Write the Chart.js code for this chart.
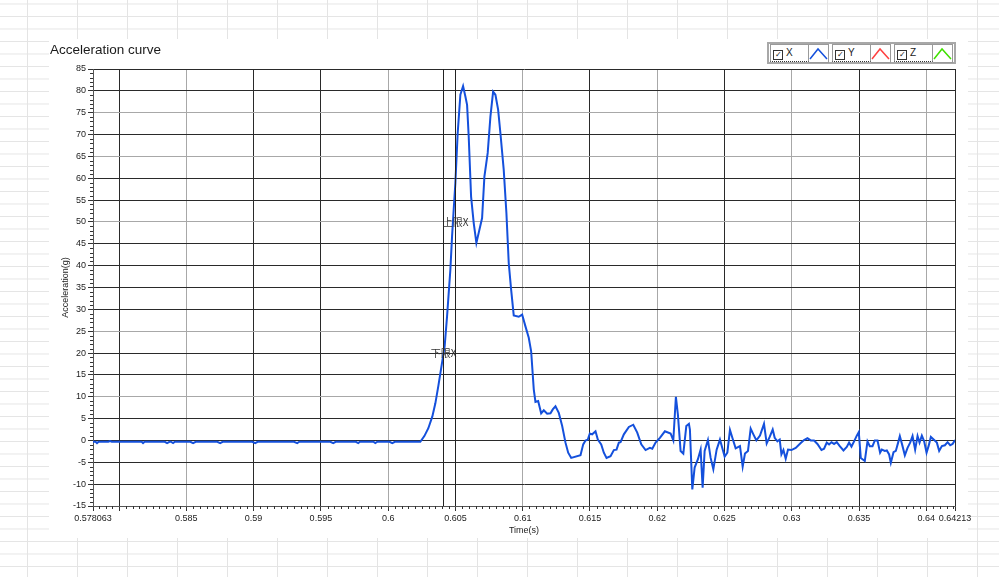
<!DOCTYPE html>
<html>
<head>
<meta charset="utf-8">
<title>Acceleration curve</title>
<script src="https://cdn.jsdelivr.net/npm/chart.js@4.4.1/dist/chart.umd.min.js"></script>
<style>
    body {
        margin: 0;
        width: 999px;
        height: 577px;
        overflow: hidden;
        position: relative;
        background-color: #fff;
        background-image:
            linear-gradient(to right, #e4e4e4 1px, transparent 1px),
            linear-gradient(to bottom, #e4e4e4 1px, transparent 1px);
        background-size: 50px 100%, 100% 12.5px;
        background-position: 27px 0, 0 3.5px;
        font-family: "Liberation Sans", Arial, sans-serif;
    }
    #panel {
        position: absolute;
        left: 49px; top: 39px;
        width: 919px; height: 499px;
        background: #fff;
    }
    #chart { position: absolute; left: 0; top: 0; }
    #legend {
        position: absolute;
        left: 767px; top: 42px;
        height: 18px;
        border: 2px solid #a8a8a8;
        display: flex;
        padding: 0 1px;
        background: #fff;
    }
    .item { display: flex; margin-right: 3px; }
    .item:last-child { margin-right: 0; }
    .name {
        width: 37px; height: 16px;
        border: 1px solid #9a9a9a;
        border-bottom: 1px dotted #333;
        font-size: 10px; line-height: 16px;
        color: #222;
        box-sizing: content-box;
    }
    .name span.box {
        display: inline-block;
        width: 8px; height: 8px;
        border: 1px solid #333;
        margin: 0 3px 0 2px;
        vertical-align: -1px;
        font-size: 8px; line-height: 8px;
        text-align: center;
    }
    .icon { width: 19px; height: 17px; border: 1px solid #9a9a9a; border-left: none; }
</style>
</head>
<body>
<div id="panel"></div>
<canvas id="chart" width="999" height="577"></canvas>
<div id="legend"></div>

<script>
/* =====================================
   Data
===================================== */
const seriesNames = ["X", "Y", "Z"];
const seriesColors = ["#1450dc", "#ff4040", "#40e000"];

// time (s) and acceleration (g) of the X channel
const timeX = [
    0.578063, 0.57825, 0.578361, 0.57848, 0.5792, 0.57933, 0.57946, 0.5806, 0.58168, 0.581783, 0.5819,
    0.5834, 0.583569, 0.58375, 0.58385, 0.584015, 0.58415, 0.5853, 0.585503, 0.5857, 0.5873, 0.587512,
    0.5877, 0.5899, 0.590116, 0.5903, 0.593, 0.593241, 0.5934, 0.5957, 0.595919, 0.5961, 0.5976,
    0.597779, 0.5979, 0.5989, 0.599044, 0.5992, 0.6001, 0.600309, 0.6005, 0.60239,
    0.60269, 0.602987, 0.603285, 0.603508, 0.603731, 0.604006, 0.6042, 0.604378, 0.604624, 0.60475,
    0.60487, 0.604996, 0.605167, 0.605368, 0.605569, 0.60574, 0.605866, 0.605986, 0.606164, 0.606358,
    0.606558, 0.606982, 0.607154, 0.607399, 0.6076, 0.607801, 0.607972, 0.608173, 0.608344, 0.60859,
    0.60879, 0.608962, 0.60914, 0.609334, 0.609706, 0.609958, 0.610204, 0.61045, 0.610628, 0.610822,
    0.610948, 0.611149, 0.611372, 0.611566, 0.611818, 0.612064, 0.612235, 0.612436, 0.612682, 0.612934,
    0.61318, 0.613381, 0.613604, 0.614296, 0.614497, 0.614668, 0.614839, 0.614988, 0.615166, 0.615412,
    0.615583, 0.615836, 0.61603, 0.61623, 0.616528, 0.616774, 0.616974, 0.617146, 0.617272, 0.617518,
    0.61789, 0.618217, 0.618514, 0.618812, 0.619132, 0.619452, 0.61963, 0.619876, 0.620196, 0.620568,
    0.620992, 0.621193, 0.621386, 0.621535, 0.621736, 0.621937, 0.62216, 0.622354, 0.622428, 0.622606,
    0.622778, 0.623023, 0.623224, 0.623373, 0.623522, 0.623767, 0.623968, 0.624169, 0.624414, 0.62466,
    0.62501, 0.62521, 0.625404, 0.625582, 0.625828, 0.626148, 0.626349, 0.62652, 0.626743, 0.626944,
    0.627145, 0.627368, 0.627636, 0.627934, 0.628134, 0.628358, 0.628581, 0.62873, 0.62893, 0.629102,
    0.629228, 0.629377, 0.629548, 0.629719, 0.629972, 0.630292, 0.630664, 0.63091, 0.631162, 0.631408,
    0.631654, 0.631906, 0.632204, 0.632398, 0.632598, 0.63277, 0.632948, 0.633142, 0.633342, 0.633566,
    0.633841, 0.634086, 0.634258, 0.634436, 0.63463, 0.63483, 0.634979, 0.635128, 0.635254, 0.635426,
    0.635626, 0.635798, 0.635998, 0.63617, 0.63637, 0.636564, 0.63669, 0.636914, 0.637062, 0.637234,
    0.63736, 0.637561, 0.637732, 0.637903, 0.63803, 0.63823, 0.638402, 0.638602, 0.638796, 0.638974,
    0.639168, 0.639346, 0.639495, 0.639666, 0.639838, 0.640016, 0.640165, 0.640336, 0.640582, 0.640782,
    0.640954, 0.641154, 0.641378, 0.641578, 0.641772, 0.64195, 0.64213
];
const accelX = [
    -0.3, -0.3, -0.6, -0.3, -0.3, -0.15, -0.3, -0.3, -0.3, -0.6, -0.3,
    -0.3, -0.6, -0.3, -0.3, -0.6, -0.3, -0.3, -0.6, -0.3, -0.3, -0.6,
    -0.3, -0.3, -0.6, -0.3, -0.3, -0.6, -0.3, -0.3, -0.6, -0.3, -0.3,
    -0.6, -0.3, -0.3, -0.6, -0.3, -0.3, -0.6, -0.3, -0.3,
    1.0, 2.8, 5.5, 8.5, 12.5, 17.8, 21.6, 28.4, 39.1, 46.7,
    52.8, 58.9, 70.3, 79.1, 81.1, 78.7, 76.8, 69.6, 55.8, 49.8,
    45.2, 50.9, 60.4, 65.8, 74.1, 79.8, 79.1, 75.7, 70.3, 61.9,
    52.0, 40.6, 34.5, 28.6, 28.3, 28.8, 26.1, 23.5, 20.4, 11.7,
    8.8, 9.0, 6.2, 6.9, 6.1, 6.2, 7.1, 7.8, 6.3, 3.3,
    -0.5, -2.8, -4.0, -3.4, -0.9, 0.0, 0.2, 1.6, 1.4, 2.1,
    0.2, -0.9, -2.8, -4.0, -3.6, -2.2, -2.1, -0.5, -0.4, 1.4,
    3.1, 3.6, 1.8, -0.9, -2.2, -1.7, -1.9, -0.5, 0.6, 2.1,
    1.6, 0.0, 10.0, 5.9, -2.4, -3.0, 3.3, 3.8, 2.5, -11.2,
    -6.2, -4.3, -2.1, -10.8, -2.4, 0.1, -4.0, -6.6, -2.1, 0.2,
    -3.7, -2.8, 2.4, 0.6, -1.8, -1.3, -6.0, -3.0, -2.4, 2.7,
    1.4, 0.0, 1.1, 3.8, -0.7, 0.8, 2.5, 0.6, -0.2, 0.2,
    -3.2, -2.2, -4.2, -2.1, -2.2, -1.7, -0.6, 0.1, 0.5, 0.0,
    0.0, -0.8, -2.2, -1.9, -0.5, -0.9, -0.4, -0.8, -0.4, -1.3,
    -2.3, -1.5, -0.5, -1.4, -0.2, 1.1, 1.9, -4.0, -4.3, -4.7,
    -0.2, -1.3, -1.3, 0.0, 0.0, -2.8, -2.1, -2.4, -2.3, -3.2,
    -5.1, -2.7, -2.4, -0.5, 1.0, -1.3, -3.4, -1.7, -0.5, 1.0,
    -2.1, 1.0, -0.5, 1.1, -0.2, -2.8, -1.3, 0.8, 0.1, -0.5,
    -2.4, -1.3, -1.1, -0.4, -1.1, -0.8, 0.1
];

// axis ticks
const xMin = 0.578063;
const xMax = 0.64213;
const xTicks = [0.578063, 0.58, 0.585, 0.59, 0.595, 0.6, 0.605, 0.61, 0.615, 0.62, 0.625, 0.63, 0.635, 0.64, 0.64213];
const xTickLabels = ["0.578063", "", "0.585", "0.59", "0.595", "0.6", "0.605", "0.61", "0.615", "0.62", "0.625", "0.63", "0.635", "0.64", "0.64213"];
const xGreyTicks = [0.585, 0.6, 0.61, 0.62, 0.63, 0.64];
const xMinorStep = 0.0005;

const yMin = -15;
const yMax = 85;
const yStep = 5;
const yGreyTicks = [75, 65, 50, 25, 10];
const yMinorStep = 1;

// cursors
const cursorNames = ["下限X", "上限X"];
const cursorTimes = [0.604103, 0.605];
const cursorValues = [20, 50];


/* =====================================
   Legend (HTML)
===================================== */
function buildLegend() {
    let legend = document.getElementById("legend");
    seriesNames.forEach((name, i) => {
        let item = document.createElement("div");
        item.className = "item";
        item.innerHTML =
            '<div class="name"><span class="box">✓</span>' + name + '</div>' +
            '<div class="icon"><svg width="19" height="17"><polyline points="1,14 9,4 18,14" fill="none" stroke="' +
            seriesColors[i] + '" stroke-width="1.5"/></svg></div>';
        legend.appendChild(item);
    });
}
buildLegend();


/* =====================================
   Plugins: minor ticks + cursors
===================================== */
const minorTicks = {
    id: "minorTicks",
    afterDraw(chart) {
        const ctx = chart.ctx;
        const x = chart.scales.x, y = chart.scales.y;
        ctx.save();
        ctx.strokeStyle = "#333";
        ctx.lineWidth = 1;
        ctx.beginPath();
        for (let v = yMin; v <= yMax; v += yMinorStep) {
            if (v % yStep === 0) continue;
            let py = Math.round(y.getPixelForValue(v)) + 0.5;
            ctx.moveTo(x.left - 3, py);
            ctx.lineTo(x.left, py);
        }
        let start = Math.ceil(xMin / xMinorStep) * xMinorStep;
        for (let v = start; v <= xMax; v += xMinorStep) {
            let k = Math.round(v / xMinorStep);
            if (k % 10 === 0) continue;
            let px = Math.round(x.getPixelForValue(v)) + 0.5;
            ctx.moveTo(px, y.bottom);
            ctx.lineTo(px, y.bottom + 3);
        }
        ctx.stroke();
        ctx.restore();
    }
};

const cursors = {
    id: "cursors",
    afterDatasetsDraw(chart) {
        const ctx = chart.ctx;
        const x = chart.scales.x, y = chart.scales.y;
        ctx.save();
        cursorTimes.forEach((t, i) => {
            let px = Math.round(x.getPixelForValue(t)) + 0.5;
            ctx.strokeStyle = "#222";
            ctx.lineWidth = 1;
            ctx.beginPath();
            ctx.moveTo(px, y.top);
            ctx.lineTo(px, y.bottom);
            ctx.stroke();
            ctx.fillStyle = "#333";
            ctx.font = "10px 'Noto Sans CJK SC', sans-serif";
            ctx.textAlign = "center";
            ctx.textBaseline = "middle";
            ctx.fillText(cursorNames[i], px, y.getPixelForValue(cursorValues[i]));
        });
        ctx.restore();
    }
};


/* =====================================
   Chart
===================================== */
const points = timeX.map((t, i) => ({ x: t, y: accelX[i] }));

new Chart(document.getElementById("chart"), {
    type: "line",
    data: {
        datasets: seriesNames.map((name, i) => ({
            label: name,
            data: i === 0 ? points : [],
            borderColor: seriesColors[i],
            borderWidth: 2,
            pointRadius: 0,
            tension: 0
        }))
    },
    options: {
        responsive: false,
        animation: false,
        layout: { padding: { left: 50, right: 44, top: 35, bottom: 36 } },
        plugins: {
            legend: { display: false },
            tooltip: { enabled: false },
            title: {
                display: true,
                text: "Acceleration curve",
                align: "start",
                color: "#1a1a1a",
                font: { size: 13.5, family: "'Liberation Sans', Arial", weight: "normal" },
                padding: { top: 7.5, bottom: 10.3 }
            }
        },
        scales: {
            x: {
                type: "linear",
                min: xMin,
                max: xMax,
                afterBuildTicks: (scale) => { scale.ticks = xTicks.map(v => ({ value: v })); },
                afterFit: (scale) => { scale.height = 35; },
                ticks: {
                    autoSkip: false,
                    maxRotation: 0,
                    padding: 2,
                    color: "#222",
                    font: { size: 9, family: "'Liberation Sans', Arial" },
                    callback: (v, i) => xTickLabels[i]
                },
                grid: {
                    color: (c) => xGreyTicks.some(g => Math.abs(g - c.tick.value) < 1e-9) ? "#a8a8a8" : "#2a2a2a",
                    tickColor: "#333",
                    tickLength: 5
                },
                border: { color: "#555" },
                title: {
                    display: true,
                    text: "Time(s)",
                    color: "#222",
                    font: { size: 9, family: "'Liberation Sans', Arial" },
                    padding: { top: 0, bottom: 5 }
                }
            },
            y: {
                min: yMin,
                max: yMax,
                afterFit: (scale) => { scale.width = 43; },
                ticks: {
                    stepSize: yStep,
                    padding: 2,
                    color: "#222",
                    font: { size: 9, family: "'Liberation Sans', Arial" }
                },
                grid: {
                    color: (c) => yGreyTicks.includes(c.tick.value) ? "#a8a8a8" : "#2a2a2a",
                    tickColor: "#333",
                    tickLength: 5
                },
                border: { color: "#555" },
                title: {
                    display: true,
                    text: "Acceleration(g)",
                    color: "#222",
                    font: { size: 9, family: "'Liberation Sans', Arial" },
                    padding: { top: 10, bottom: 0 }
                }
            }
        }
    },
    plugins: [minorTicks, cursors]
});
</script>
</body>
</html>
